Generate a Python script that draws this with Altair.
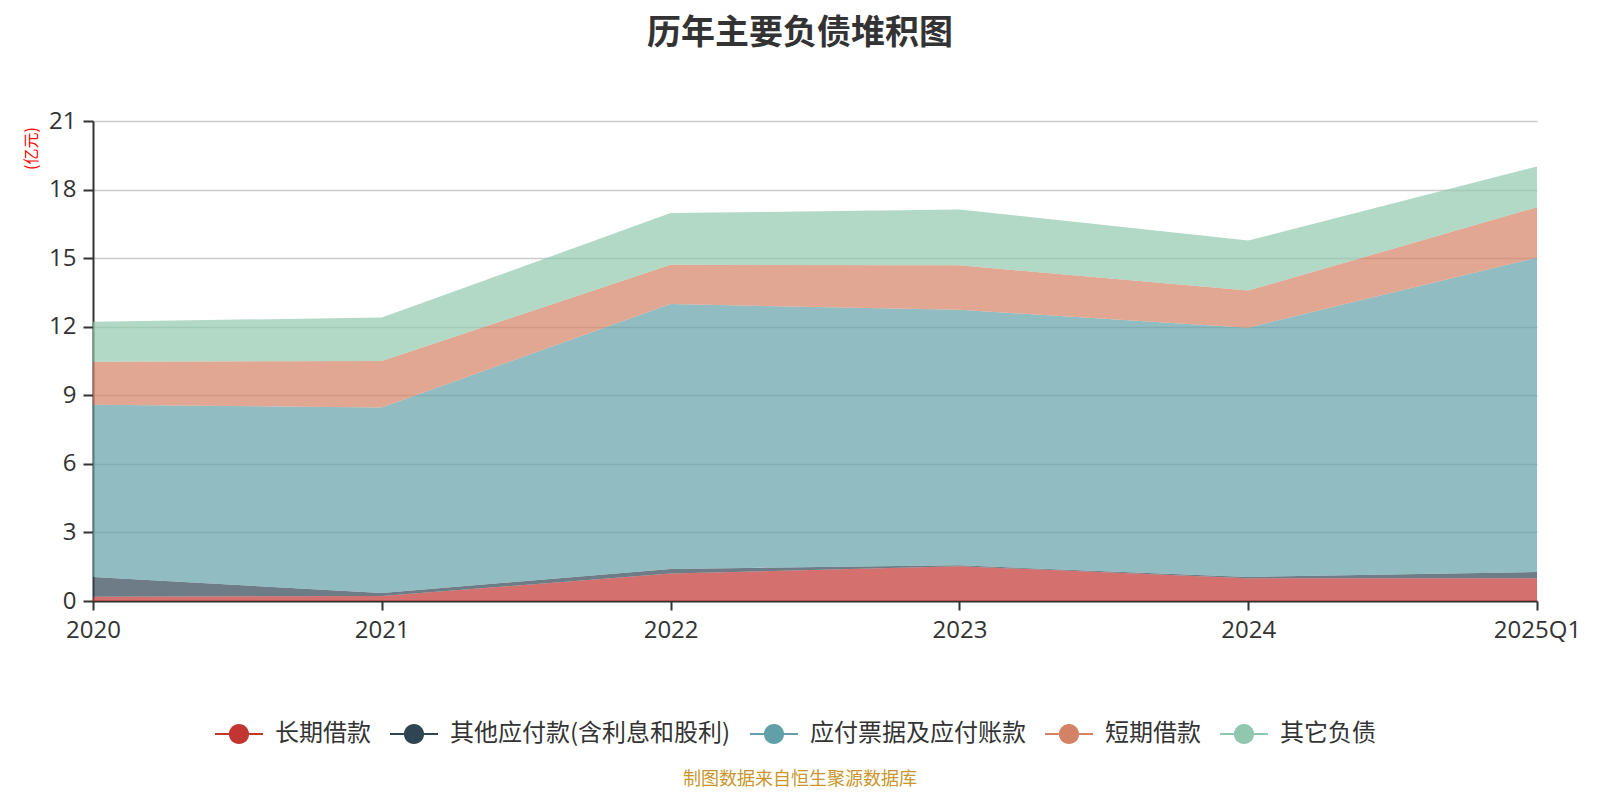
import altair as alt
import pandas as pd

years = ["2020", "2021", "2022", "2023", "2024", "2025Q1"]
series = ["长期借款", "其他应付款(含利息和股利)", "应付票据及应付账款", "短期借款", "其它负债"]
colors = ["#c23531", "#2f4554", "#61a0a8", "#d48265", "#91c7ae"]

long_loan = [0.19, 0.22, 1.20, 1.52, 1.00, 0.99]
other_payable = [0.86, 0.13, 0.20, 0.04, 0.05, 0.28]
notes_payable = [7.54, 8.12, 11.59, 11.18, 10.91, 13.75]
short_loan = [1.88, 2.03, 1.72, 1.95, 1.62, 2.21]
other_liab = [1.75, 1.90, 2.26, 2.44, 2.19, 1.78]

values = [long_loan, other_payable, notes_payable, short_loan, other_liab]

rows = []
for i, (name, vals) in enumerate(zip(series, values)):
    for y, v in zip(years, vals):
        rows.append({"year": y, "series": name, "value": v, "idx": i})
df = pd.DataFrame(rows)

FONT = "Noto Sans CJK SC"
NUMFONT = "Open Sans"

r = 0.42
h = 0.045
sym = (
    f"M-{r},0 A{r},{r} 0 1,1 {r},0 A{r},{r} 0 1,1 -{r},0 Z "
    f"M-1,-{h} L-{r},-{h} L-{r},{h} L-1,{h} Z "
    f"M{r},-{h} L1,-{h} L1,{h} L{r},{h} Z"
)

area = alt.Chart(df).mark_area(opacity=0.7, line=False).encode(
    x=alt.X(
        "year:N",
        sort=years,
        scale=alt.Scale(type="point", padding=0),
        axis=alt.Axis(
            title=None,
            labelAngle=0,
            labelFontSize=24,
            labelColor="#333333",
            labelPadding=8,
            domainColor="#333333",
            domainWidth=2,
            tickColor="#333333",
            tickWidth=2,
            tickSize=9,
            grid=False,
            labelFont=NUMFONT,
        ),
    ),
    y=alt.Y(
        "value:Q",
        stack="zero",
        scale=alt.Scale(domain=[0, 21], nice=False),
        axis=alt.Axis(
            values=[0, 3, 6, 9, 12, 15, 18, 21],
            title="(亿元)",
            titleColor="#ff0000",
            titleFontSize=16,
            titleFontWeight="normal",
            titleFont=FONT,
            titleAngle=-90,
            titleX=-62,
            titleY=27,
            titleAlign="center",
            titleBaseline="middle",
            labelFontSize=24,
            labelColor="#333333",
            labelPadding=7,
            labelFont=NUMFONT,
            domainColor="#333333",
            domainWidth=2,
            tickColor="#333333",
            tickWidth=2,
            tickSize=10,
            grid=True,
            gridColor="#cccccc",
            gridWidth=1.5,
        ),
    ),
    color=alt.Color(
        "series:N",
        scale=alt.Scale(domain=series, range=colors),
        legend=alt.Legend(
            title=None,
            orient="none",
            legendX=122,
            legendY=589,
            direction="horizontal",
            columns=5,
            columnPadding=19,
            symbolType=sym,
            symbolSize=2304,
            symbolStrokeWidth=0,
            symbolOpacity=1,
            labelFontSize=24,
            labelColor="#333333",
            labelFont=FONT,
            labelOffset=12,
            labelLimit=500,
        ),
    ),
    order=alt.Order("idx:Q", sort="ascending"),
)

footer = alt.Chart(pd.DataFrame({"t": ["制图数据来自恒生聚源数据库"]})).mark_text(
    fontSize=18, color="#c9962b", font=FONT, align="center", baseline="middle"
).encode(text="t:N", x=alt.value(707), y=alt.value(659))

chart = (
    alt.layer(area, footer)
    .properties(
        width=1444,
        height=480,
        autosize=alt.AutoSizeParams(type="none"),
        padding={"left": 85, "top": 113, "right": 55, "bottom": 191},
        title=alt.TitleParams(
            "历年主要负债堆积图",
            fontSize=34,
            fontWeight="bold",
            color="#333333",
            font=FONT,
            anchor="middle",
            dx=-15,
            offset=41,
            baseline="middle",
        ),
    )
    .configure_view(stroke=None)
)

chart.save("out.html", embed_options={"renderer": "svg", "actions": False})
